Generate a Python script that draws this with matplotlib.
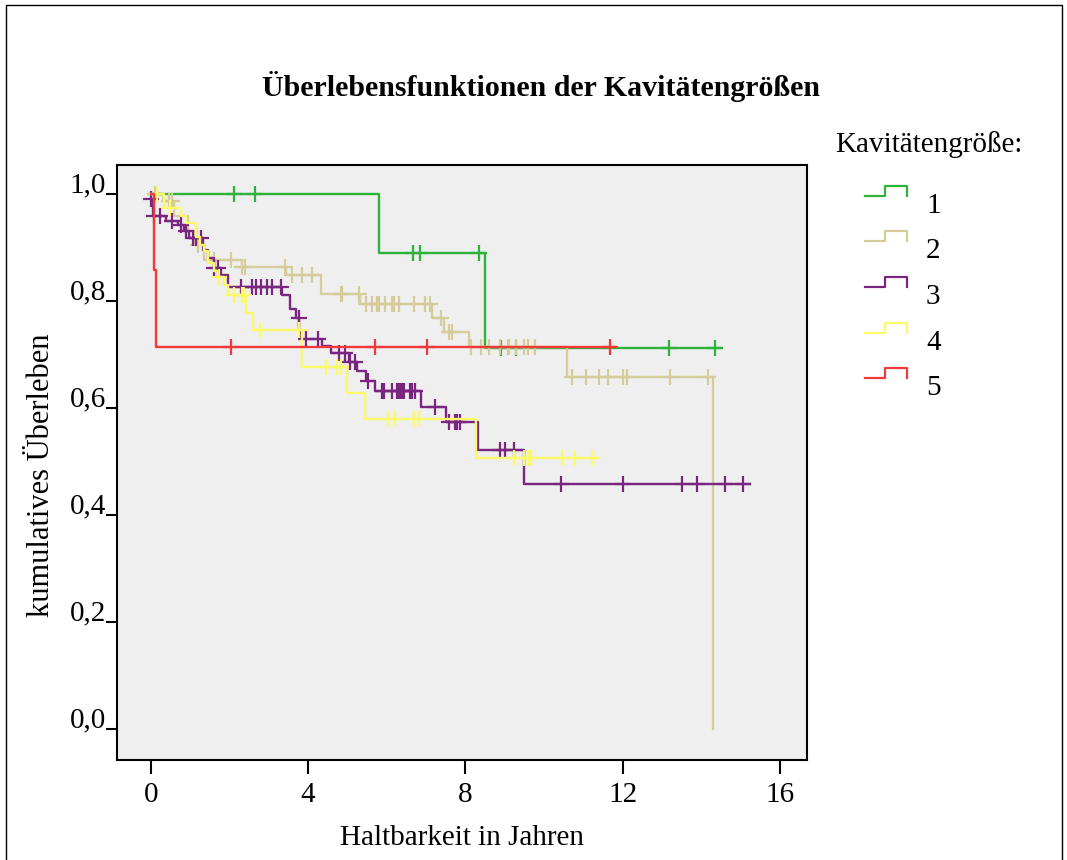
import numpy as np
import matplotlib
matplotlib.use("Agg")
import matplotlib.pyplot as plt
from matplotlib.lines import Line2D
from matplotlib.patches import Rectangle
import matplotlib.transforms as mtransforms

plt.rcParams['font.family'] = ['Liberation Serif', 'DejaVu Serif']

# Kaplan-Meier Stufen (Zeit in Jahren, kumulatives Überleben) und zensierte Zeiten
groups = ["1", "2", "3", "4", "5"]
colors = ["#2db33a", "#d4cd9a", "#7a2580", "#fafa6a", "#f03a3a"]

g1_t = [0.0, 5.8, 8.49, 14.5]
g1_s = [1.0, 0.889, 0.711, 0.711]
g1_cens = [0.12, 2.11, 2.66, 6.66, 6.84, 8.35, 8.9, 9.3, 13.17, 14.34]

g2_t = [0.0, 0.3, 0.6, 0.95, 1.1, 1.35, 2.32, 3.45, 4.32, 5.33, 7.14, 7.46, 8.10, 10.58, 14.3]
g2_s = [1.0, 0.986, 0.958, 0.93, 0.905, 0.877, 0.864, 0.848, 0.812, 0.794, 0.768, 0.742, 0.714, 0.657, 0.0]
g2_cens = [0.1, 0.45, 0.55, 1.19, 1.61, 2.04, 2.33, 2.40, 3.41, 3.6, 3.85, 4.09, 4.83, 4.87,
           5.29, 5.48, 5.63, 5.76, 5.8, 5.95, 6.14, 6.18, 6.31, 6.69, 6.98, 7.09, 7.37, 7.59,
           7.66, 8.15, 8.41, 8.61, 8.89, 9.08, 9.12, 9.28, 9.48, 9.59, 9.76, 10.72, 11.06,
           11.4, 11.62, 12.0, 12.1, 13.21, 14.16]

g3_t = [0.0, 0.06, 0.39, 0.68, 0.85, 0.98, 1.33, 1.46, 1.60, 1.78, 1.95, 3.33, 3.55, 3.68,
        3.78, 3.82, 4.36, 4.57, 5.04, 5.25, 5.46, 5.70, 6.88, 7.50, 8.32, 9.50, 15.25]
g3_s = [0.99, 0.958, 0.950, 0.942, 0.93, 0.918, 0.895, 0.880, 0.862, 0.849, 0.826, 0.811,
        0.785, 0.768, 0.746, 0.728, 0.715, 0.702, 0.685, 0.668, 0.650, 0.632, 0.601, 0.574,
        0.521, 0.457, 0.457]
g3_cens = [0.0, 0.09, 0.22, 0.55, 0.77, 0.89, 1.06, 1.15, 1.27, 1.61, 1.70, 2.29, 2.58, 2.67,
           2.80, 2.96, 3.09, 3.30, 3.76, 3.94, 4.26, 4.78, 4.95, 5.06, 5.19, 5.53, 5.88, 5.93,
           6.14, 6.26, 6.31, 6.35, 6.39, 6.44, 6.60, 6.64, 6.73, 7.24, 7.58, 7.73, 7.79, 7.87,
           8.87, 9.0, 9.23, 10.44, 12.0, 13.5, 13.88, 14.6, 15.06]

g4_t = [0.0, 0.34, 0.77, 0.9, 1.15, 1.25, 1.35, 1.45, 1.6, 1.7, 1.85, 1.95, 2.42, 2.60,
        3.85, 5.0, 5.44, 8.27, 11.4]
g4_s = [1.0, 0.973, 0.958, 0.945, 0.92, 0.905, 0.893, 0.87, 0.855, 0.845, 0.83, 0.811,
        0.778, 0.746, 0.676, 0.627, 0.579, 0.506, 0.506]
g4_cens = [0.15, 0.49, 1.74, 2.12, 2.33, 2.36, 2.77, 3.77, 4.46, 4.74, 4.83, 6.04, 6.21,
           6.69, 6.81, 9.23, 9.48, 9.61, 9.67, 10.45, 10.80, 11.22]

g5_t = [0.0, 0.08, 0.12, 11.83]
g5_s = [1.0, 0.857, 0.714, 0.714]
g5_cens = [2.03, 5.7, 7.03, 11.67]

all_t = [g1_t, g2_t, g3_t, g4_t, g5_t]
all_s = [g1_s, g2_s, g3_s, g4_s, g5_s]
all_cens = [g1_cens, g2_cens, g3_cens, g4_cens, g5_cens]

xticks = [0, 4, 8, 12, 16]
yticks = [0.0, 0.2, 0.4, 0.6, 0.8, 1.0]
ytick_labels = ["0,0", "0,2", "0,4", "0,6", "0,8", "1,0"]

fig = plt.figure(figsize=(10.67, 8.6), dpi=100)
ax = fig.add_axes([0.1097, 0.1163, 0.647, 0.692])
ax.set_facecolor("#efefef")

for t, s, cens, c in zip(all_t, all_s, all_cens, colors):
    ax.step(t, s, where="post", color=c, lw=1.7)
    # Zensierungen auf der Stufenfunktion markieren
    idx = np.searchsorted(t, cens, side="right") - 1
    cy = np.array(s)[np.clip(idx, 0, len(s) - 1)]
    ax.plot(cens, cy, ls="none", marker="+", ms=11, mew=1.6, color=c)

ax.set_xlim(-0.86, 16.7)
ax.set_ylim(-0.058, 1.054)
ax.set_xticks(xticks)
ax.set_xticklabels([str(v) for v in xticks], fontsize=21)
ax.set_yticks(yticks)
ax.set_yticklabels(ytick_labels, fontsize=21)
ax.tick_params(axis="y", direction="out", length=8, width=1.5, pad=0)
ax.tick_params(axis="x", direction="out", length=10, width=1.5, pad=6)
# Beschriftungen der y-Achse etwas nach oben setzen (wie SPSS)
offset = mtransforms.ScaledTranslation(0, 8 / 72, fig.dpi_scale_trans)
for lbl in ax.get_yticklabels():
    lbl.set_transform(lbl.get_transform() + offset)
for sp in ax.spines.values():
    sp.set_linewidth(1.5)
    sp.set_color("black")

ax.set_xlabel("Haltbarkeit in Jahren", fontsize=21, labelpad=12)
ax.set_ylabel("kumulatives Überleben", fontsize=22)
ax.yaxis.set_label_coords(-0.088, 0.479)

fig.text(0.507, 1 - 87 / 860, "Überlebensfunktionen der Kavitätengrößen",
         fontsize=21.5, fontweight="bold", ha="center", va="center")

# Legende
fig.text(835 / 1067, 1 - 145 / 860, "Kavitätengröße:", fontsize=21, ha="left", va="center")
for i, (g, c) in enumerate(zip(groups, colors)):
    y0 = 1 - (196 + 45.5 * i) / 860
    y1 = y0 + 10 / 860
    xs = np.array([865, 885, 885, 907, 907]) / 1067
    ys = [y0, y0, y1, y1, y0]
    fig.add_artist(Line2D(xs, ys, color=c, lw=1.6, transform=fig.transFigure))
    fig.text(926 / 1067, 1 - (206 + 45.5 * i) / 860, g, fontsize=21, ha="left", va="center")

fig.add_artist(Rectangle((6 / 1067, -0.05), 1056 / 1067, 1 - 5 / 860 + 0.05, fill=False,
                         ec="black", lw=1, transform=fig.transFigure))

fig.savefig("out.png", dpi=100)
